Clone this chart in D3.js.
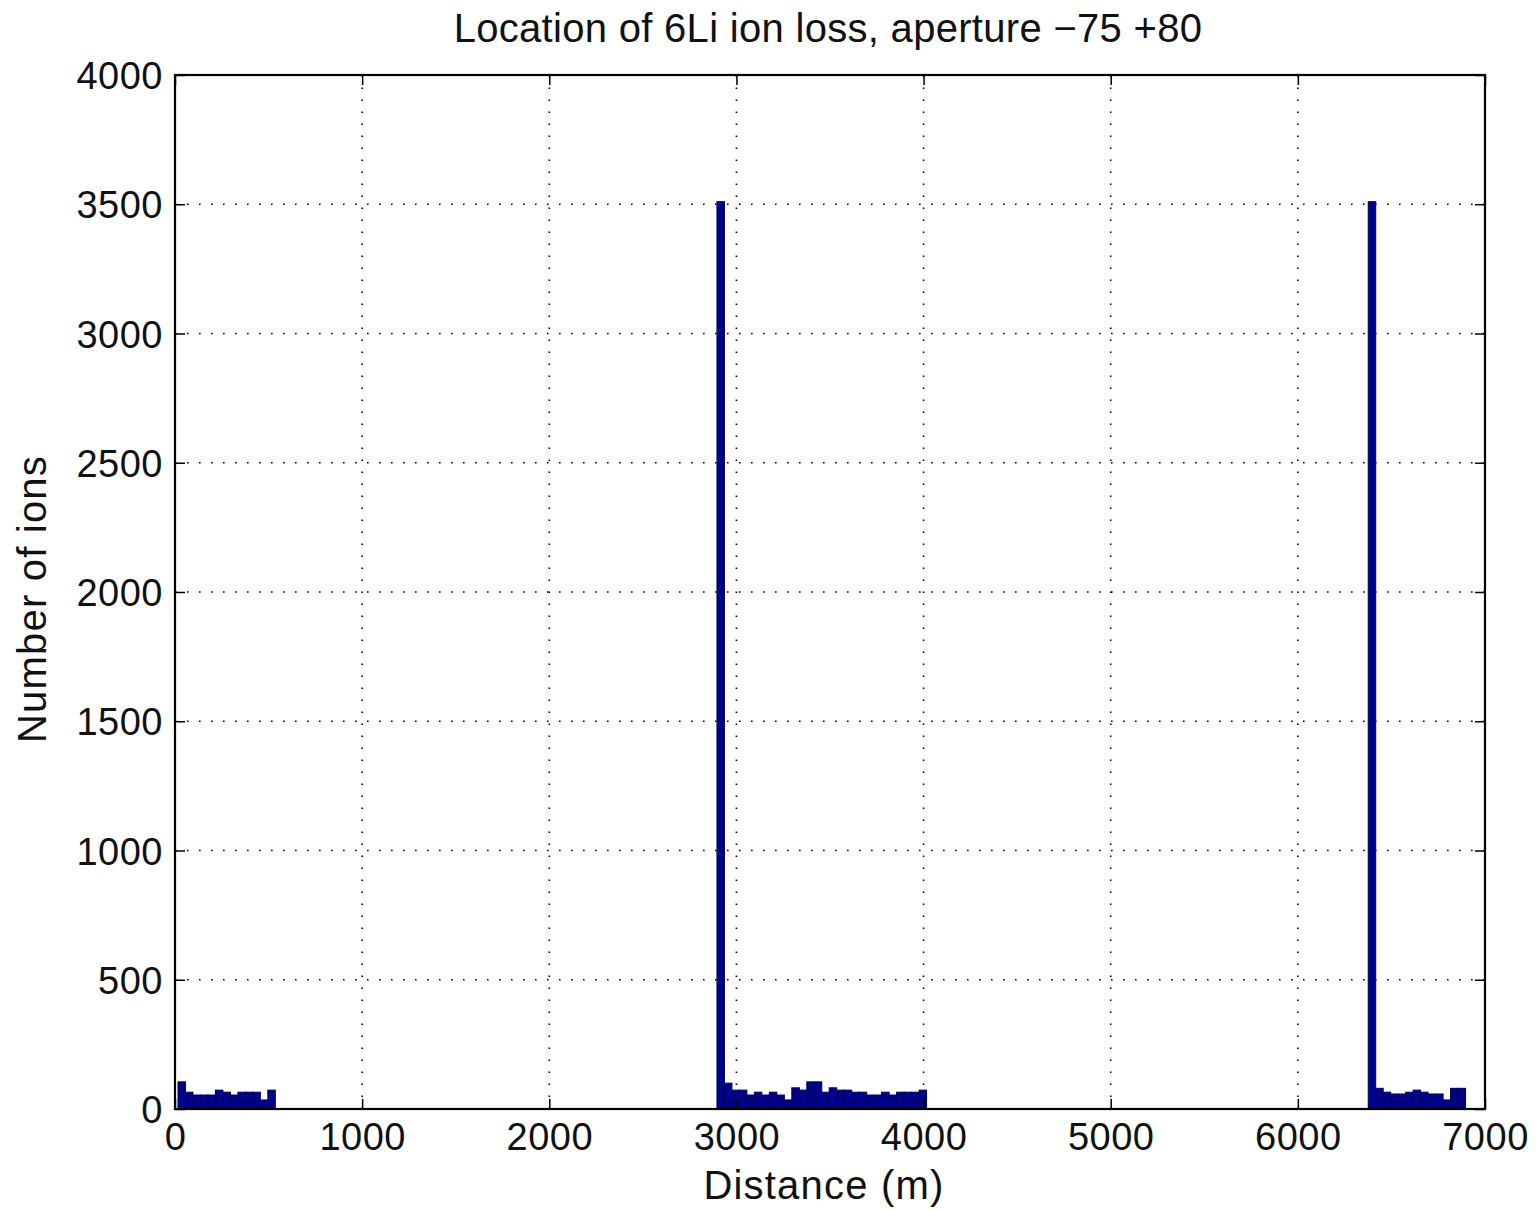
<!DOCTYPE html>
<html>
<head>
<meta charset="utf-8">
<script src="https://cdn.jsdelivr.net/npm/d3@7"></script>
<style>
  html, body { margin: 0; padding: 0; background: #fff; }
  svg { display: block; }
  text { font-family: "Liberation Sans", Arial, Helvetica, sans-serif; fill: #111; }
</style>
</head>
<body>
<svg id="chart" width="1537" height="1210"></svg>
<script>
// Histogram of ion loss positions, 40 m bins starting at 16 m.
const binWidth = 40;                 // m
const firstBinStart = 16;            // m

// Loss counts, section near the start of the line (bins 0..12)
const countsStart = [105, 65, 54, 54, 54, 73, 65, 54, 65, 65, 65, 35, 73];
// First aperture peak (bin 72) and losses that follow it (bins 73..99)
const peakA = [3510];
const countsMid = [100, 73, 73, 54, 65, 54, 65, 54, 35, 82, 73, 105, 105, 65,
                   82, 73, 73, 65, 65, 54, 54, 65, 54, 65, 65, 65, 73];
// Second aperture peak (bin 159) and losses that follow it (bins 160..171)
const peakB = [3510];
const countsEnd = [80, 65, 58, 58, 65, 73, 65, 58, 58, 35, 80, 80];

// Which bin index each block begins at
const blockFirstBin = [0, 72, 73, 159, 160];
const blocks = [countsStart, peakA, countsMid, peakB, countsEnd];

const xTicks = [0, 1000, 2000, 3000, 4000, 5000, 6000, 7000];
const yTicks = [0, 500, 1000, 1500, 2000, 2500, 3000, 3500, 4000];

const titleText = "Location of 6Li ion loss, aperture \u221275 +80";
const xLabel = "Distance (m)";
const yLabel = "Number of ions";

// Flatten the blocks into histogram bins
const bins = [];
blocks.forEach((counts, b) => {
  counts.forEach((c, i) => {
    const start = firstBinStart + (blockFirstBin[b] + i) * binWidth;
    bins.push({ x0: start, x1: start + binWidth, count: c });
  });
});

const svg = d3.select("#chart");
const plot = { left: 175, right: 1485, top: 75, bottom: 1109 };

const x = d3.scaleLinear().domain([0, 7000]).range([plot.left, plot.right]);
const y = d3.scaleLinear().domain([0, 4000]).range([plot.bottom, plot.top]);

// Dotted grid
const grid = svg.append("g").attr("stroke", "#000").attr("stroke-width", 1.6)
  .attr("stroke-dasharray", "1.6,10.4");
grid.selectAll("line.gx").data(xTicks.slice(1, -1)).join("line")
  .attr("x1", d => x(d)).attr("x2", d => x(d))
  .attr("y1", plot.bottom).attr("y2", plot.top);
grid.selectAll("line.gy").data(yTicks.slice(1, -1)).join("line")
  .attr("x1", plot.left).attr("x2", plot.right)
  .attr("y1", d => y(d)).attr("y2", d => y(d));

// Bars
svg.append("g").selectAll("rect").data(bins).join("rect")
  .attr("x", d => x(d.x0))
  .attr("width", d => x(d.x1) - x(d.x0))
  .attr("y", d => y(d.count))
  .attr("height", d => y(0) - y(d.count))
  .attr("fill", "#000088")
  .attr("stroke", "#00005a")
  .attr("stroke-width", 1);

// Axes with inward ticks on all four sides
const tickLen = 10;
const axBottom = d3.axisBottom(x).tickValues(xTicks).tickSize(-tickLen).tickPadding(14)
  .tickFormat(d3.format("d"));
const axTop = d3.axisTop(x).tickValues(xTicks).tickSize(-tickLen).tickFormat("");
const axLeft = d3.axisLeft(y).tickValues(yTicks).tickSize(-tickLen).tickPadding(12)
  .tickFormat(d3.format("d"));
const axRight = d3.axisRight(y).tickValues(yTicks).tickSize(-tickLen).tickFormat("");

function styleAxis(g) {
  g.select(".domain").remove();
  g.selectAll(".tick line").attr("stroke", "#000").attr("stroke-width", 1.5);
  g.selectAll(".tick text").style("font-size", "38px")
    .style("letter-spacing", "0.5px")
    .style("font-family", "'Liberation Sans', Arial, sans-serif").attr("fill", "#111");
}

svg.append("g").attr("transform", `translate(0,${plot.bottom})`).call(axBottom).call(styleAxis)
  .selectAll(".tick text").attr("dy", "0.72em");
svg.append("g").attr("transform", `translate(0,${plot.top})`).call(axTop).call(styleAxis);
svg.append("g").attr("transform", `translate(${plot.left},0)`).call(axLeft).call(styleAxis)
  .selectAll(".tick text").attr("dy", "0.36em");
svg.append("g").attr("transform", `translate(${plot.right},0)`).call(axRight).call(styleAxis);

// Plot box
svg.append("rect")
  .attr("x", plot.left).attr("y", plot.top)
  .attr("width", plot.right - plot.left).attr("height", plot.bottom - plot.top)
  .attr("fill", "none").attr("stroke", "#000").attr("stroke-width", 2.2);

// Titles
svg.append("text").attr("x", 828).attr("y", 42)
  .attr("text-anchor", "middle").style("font-size", "40px")
  .style("letter-spacing", "0.3px").text(titleText);
svg.append("text").attr("x", 824).attr("y", 1199)
  .attr("text-anchor", "middle").style("font-size", "40px")
  .style("letter-spacing", "1.2px").text(xLabel);
svg.append("text").attr("transform", "translate(46,599) rotate(-90)")
  .attr("text-anchor", "middle").style("font-size", "40px")
  .style("letter-spacing", "1.2px").text(yLabel);
</script>
</body>
</html>
